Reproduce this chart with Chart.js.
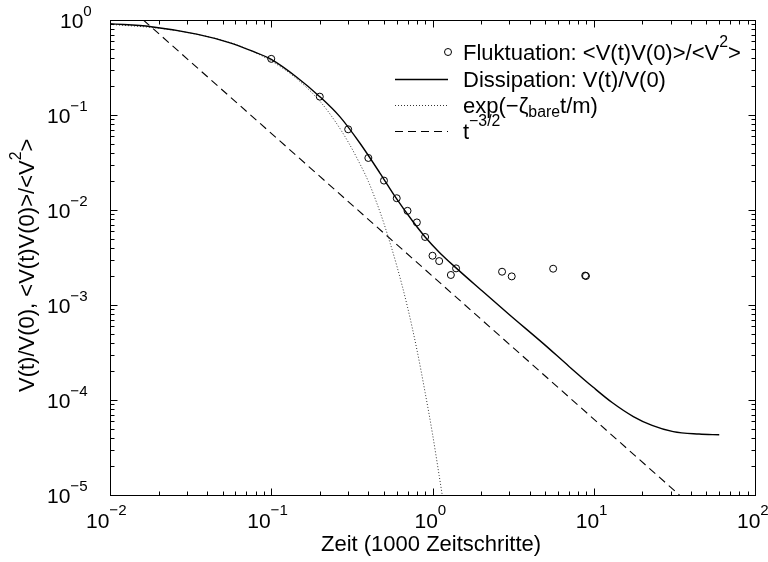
<!DOCTYPE html>
<html>
<head>
<meta charset="utf-8">
<script src="https://cdn.jsdelivr.net/npm/chart.js@4.4.1/dist/chart.umd.min.js"></script>
<style>
  html, body { margin: 0; padding: 0; background: #fff; }
  #wrap { width: 768px; height: 562px; }
</style>
</head>
<body>
<div id="wrap"><canvas id="chart" width="768" height="562"></canvas></div>
<script>
// Fluktuation: <V(t)V(0)>/<V^2>  (Kreise)
const flukT = [0.1, 0.2, 0.3, 0.4, 0.5, 0.6, 0.7, 0.8, 0.9, 1.0, 1.1, 1.3, 1.4, 2.7, 3.1, 5.6, 8.85, 8.95];
const flukV = [0.39, 0.156, 0.0707, 0.0353, 0.0204, 0.0133, 0.0098, 0.0074, 0.0052, 0.0033, 0.0029, 0.00207, 0.00243, 0.00224, 0.0020, 0.00241, 0.00204, 0.00202];

// Dissipation: V(t)/V(0)
const dissT = [0.01, 0.018, 0.0345, 0.0555, 0.075, 0.1, 0.144, 0.2, 0.267, 0.355, 0.472, 0.585, 0.75, 0.9, 1.1, 1.41, 2.0, 3.0, 4.87, 7.0, 9.93, 13.0, 17.6, 23.0, 31.1, 45.0, 60.0];
const dissV = [0.915, 0.85, 0.71, 0.575, 0.475, 0.385, 0.25, 0.156, 0.0955, 0.0504, 0.0245, 0.0139, 0.0077, 0.0052, 0.0036, 0.00243, 0.00144, 7.9e-4, 3.92e-4, 2.27e-4, 1.36e-4, 9.4e-5, 6.69e-5, 5.4e-5, 4.64e-5, 4.38e-5, 4.3e-5];

// exp(-zeta_bare t/m)
const expT = [0.01, 0.02, 0.03, 0.05, 0.07, 0.1, 0.14, 0.2, 0.25, 0.3, 0.35, 0.4, 0.45, 0.5, 0.6, 0.7, 0.8, 0.9, 1.0, 1.1, 1.16];
const expV = [0.9, 0.82, 0.74, 0.61, 0.5, 0.37, 0.25, 0.14, 0.085, 0.052, 0.032, 0.02, 0.012, 0.0072, 0.0026, 9.5e-4, 3.4e-4, 1.2e-4, 4.4e-5, 1.6e-5, 9e-6];

// t^-3/2
const powT = [0.0161, 34];
const powV = [1, 1e-5];

// Achsen (Exponenten der Dekaden)
const xDecades = [-2, -1, 0, 1, 2];
const yDecades = [-5, -4, -3, -2, -1, 0];

const FONT = '"Liberation Sans", Arial, Helvetica, sans-serif';

// Legende: Textteile mit Hoch-/Tiefstellung
const legendItems = [
  [{t: 'Fluktuation: <V(t)V(0)>/<V'}, {t: '2', s: 'sup'}, {t: '>'}],
  [{t: 'Dissipation: V(t)/V(0)'}],
  [{t: 'exp(\u2212\u03b6'}, {t: 'bare', s: 'sub'}, {t: 't/m)'}],
  [{t: 't'}, {t: '\u22123/2', s: 'sup'}]
];
const xTitle = [{t: 'Zeit (1000 Zeitschritte)'}];
const yTitle = [{t: 'V(t)/V(0), <V(t)V(0)>/<V'}, {t: '2', s: 'sup'}, {t: '>'}];

function pts(xs, ys) {
  return xs.map((x, i) => ({x: x, y: ys[i]}));
}

// zeichnet Text mit Hoch-/Tiefstellung, gibt Breite zurueck
function drawRich(ctx, parts, x, y, size) {
  let cx = x;
  parts.forEach(p => {
    let fs = size, dy = 0;
    if (p.s === 'sup') { fs = size * 0.72; dy = -size * 0.58; }
    if (p.s === 'sub') { fs = size * 0.72; dy = size * 0.2; }
    ctx.font = fs + 'px ' + FONT;
    ctx.fillText(p.t, cx, y + dy);
    cx += ctx.measureText(p.t).width;
  });
  return cx - x;
}

function expLabel(e) {
  return [{t: '10'}, {t: (e < 0 ? '\u2212' + (-e) : String(e)), s: 'sup'}];
}

// Rahmen, Ticks (innen, auf allen Seiten), Beschriftung, Legende
const framePlugin = {
  id: 'frame',
  afterDraw(chart) {
    const ctx = chart.ctx;
    const a = chart.chartArea;
    const sx = chart.scales.x, sy = chart.scales.y;
    const L = Math.round(a.left) + 0.5, R = Math.round(a.right) + 0.5;
    const T = Math.round(a.top) + 0.5, B = Math.round(a.bottom) + 0.5;
    ctx.save();
    ctx.strokeStyle = '#000';
    ctx.fillStyle = '#000';
    ctx.lineWidth = 1;
    ctx.setLineDash([]);
    ctx.strokeRect(L, T, R - L, B - T);

    ctx.beginPath();
    xDecades.forEach((d, i) => {
      const last = i === xDecades.length - 1;
      for (let m = 1; m <= (last ? 1 : 9); m++) {
        const px = Math.round(sx.getPixelForValue(m * Math.pow(10, d))) + 0.5;
        const len = m === 1 ? 7 : 4;
        ctx.moveTo(px, B); ctx.lineTo(px, B - len);
        ctx.moveTo(px, T); ctx.lineTo(px, T + len);
      }
    });
    yDecades.forEach((d, i) => {
      const last = i === yDecades.length - 1;
      for (let m = 1; m <= (last ? 1 : 9); m++) {
        const py = Math.round(sy.getPixelForValue(m * Math.pow(10, d))) + 0.5;
        const len = m === 1 ? 7 : 4;
        ctx.moveTo(L, py); ctx.lineTo(L + len, py);
        ctx.moveTo(R, py); ctx.lineTo(R - len, py);
      }
    });
    ctx.stroke();

    // Tick-Beschriftung
    ctx.textBaseline = 'alphabetic';
    ctx.textAlign = 'left';
    xDecades.forEach(d => {
      const px = sx.getPixelForValue(Math.pow(10, d));
      drawRich(ctx, expLabel(d), px - 18 - (d < 0 ? 6 : 0), B + 32, 21);
    });
    yDecades.forEach(d => {
      const py = sy.getPixelForValue(Math.pow(10, d));
      drawRich(ctx, expLabel(d), 47 + (d < 0 ? 0 : 13), py + 8, 21);
    });

    // Achsentitel
    drawRich(ctx, xTitle, 321, 551, 22);
    ctx.save();
    ctx.translate(34, 392);
    ctx.rotate(-Math.PI / 2);
    drawRich(ctx, yTitle, 0, 0, 22);
    ctx.restore();

    // Legende
    const lx0 = 395, lx1 = 448, tx = 463;
    const rowY = [60, 87, 113, 139];
    legendItems.forEach((parts, i) => drawRich(ctx, parts, tx, rowY[i], 22));
    ctx.beginPath();
    ctx.arc(448, rowY[0] - 8, 3.5, 0, Math.PI * 2);
    ctx.stroke();
    const styles = [null,
      {dash: [], w: 1.3, c: '#000'},
      {dash: [1, 2], w: 1, c: '#333'},
      {dash: [8, 5], w: 1.1, c: '#000'}];
    for (let i = 1; i < 4; i++) {
      ctx.beginPath();
      ctx.setLineDash(styles[i].dash);
      ctx.lineWidth = styles[i].w;
      ctx.strokeStyle = styles[i].c;
      ctx.moveTo(lx0, rowY[i] - 7.5);
      ctx.lineTo(lx1, rowY[i] - 7.5);
      ctx.stroke();
    }
    ctx.restore();
  }
};

new Chart(document.getElementById('chart'), {
  type: 'scatter',
  data: {
    datasets: [
      {
        label: 'Fluktuation',
        data: pts(flukT, flukV),
        showLine: false,
        pointStyle: 'circle',
        pointRadius: 3.5,
        borderWidth: 1,
        borderColor: '#000',
        backgroundColor: 'rgba(0,0,0,0)'
      },
      {
        label: 'Dissipation',
        data: pts(dissT, dissV),
        showLine: true,
        borderColor: '#000',
        borderWidth: 1.4,
        pointRadius: 0,
        cubicInterpolationMode: 'monotone'
      },
      {
        label: 'exp',
        data: pts(expT, expV),
        showLine: true,
        borderColor: '#333',
        borderWidth: 1,
        borderDash: [1, 2],
        pointRadius: 0,
        cubicInterpolationMode: 'monotone'
      },
      {
        label: 't^-3/2',
        data: pts(powT, powV),
        showLine: true,
        borderColor: '#000',
        borderWidth: 1.1,
        borderDash: [8, 5],
        pointRadius: 0
      }
    ]
  },
  options: {
    responsive: false,
    animation: false,
    devicePixelRatio: 1,
    layout: { padding: { left: 110, right: 13, top: 20, bottom: 67 } },
    plugins: {
      legend: { display: false },
      tooltip: { enabled: false }
    },
    scales: {
      x: { type: 'logarithmic', min: 0.01, max: 100, display: false },
      y: { type: 'logarithmic', min: 1e-5, max: 1, display: false }
    }
  },
  plugins: [framePlugin]
});
</script>
</body>
</html>
